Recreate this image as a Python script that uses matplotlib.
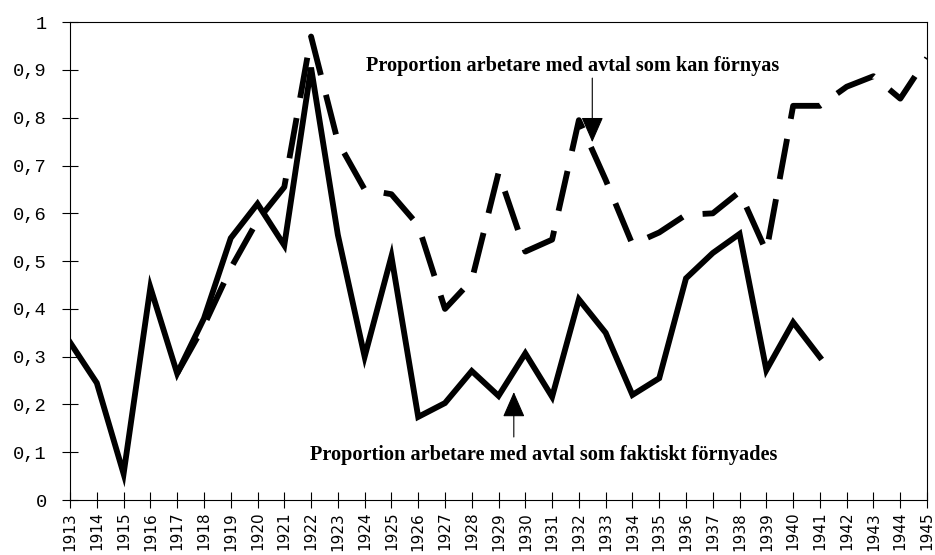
import matplotlib.pyplot as plt

# faktiskt förnyade avtal (heldragen linje)
years_renewed = list(range(1913, 1942))
renewed = [0.33, 0.245, 0.055, 0.445, 0.265, 0.38, 0.548, 0.62, 0.533, 0.905,
           0.555, 0.30, 0.51, 0.174, 0.203, 0.27, 0.218, 0.307, 0.216, 0.42,
           0.35, 0.22, 0.255, 0.464, 0.517, 0.557, 0.272, 0.372, 0.299]

# avtal som kan förnyas (streckad linje)
years_renewable = list(range(1917, 1946))
renewable = [0.265, 0.365, 0.485, 0.585, 0.655, 0.97, 0.75, 0.65, 0.64, 0.575,
             0.40, 0.46, 0.685, 0.52, 0.545, 0.795, 0.67, 0.535, 0.56, 0.597,
             0.60, 0.645, 0.52, 0.825, 0.825, 0.865, 0.887, 0.84, 0.925]

xticks = list(range(1913, 1946))
yticks = [i / 10 for i in range(11)]
ylabels = ['0'] + ['0,%d' % i for i in range(1, 10)] + ['1']

label_top = 'Proportion arbetare med avtal som kan förnyas'
label_bottom = 'Proportion arbetare med avtal som faktiskt förnyades'

fig = plt.figure(figsize=(9.35, 5.55), dpi=100)
ax = fig.add_axes([0.0749, 0.099, 0.9166, 0.861])

ax.plot(years_renewed, renewed, color='black', lw=4.2, solid_joinstyle='miter')
ax.plot(years_renewable, renewable, color='black', lw=4.2,
        linestyle=(0, (7, 3.5)), dash_capstyle='butt')

ax.set_xlim(1913, 1945)
ax.set_ylim(0, 1)

ax.set_xticks(xticks)
ax.set_xticklabels([str(y) for y in xticks], rotation=90,
                   fontfamily='DejaVu Sans', fontsize=11)
ax.set_yticks(yticks)
ax.set_yticklabels(ylabels, fontfamily='Liberation Mono', fontsize=13.5)

ax.tick_params(axis='both', direction='inout', length=11, width=0.8, color='black')
ax.tick_params(axis='y', pad=11)
ax.tick_params(axis='x', pad=3)

for side in ['left', 'bottom', 'top', 'right']:
    ax.spines[side].set_linewidth(0.8)
    ax.spines[side].set_color('black')

ax.text(1931.76, 0.908, label_top, ha='center', va='center',
        fontfamily='Liberation Serif', fontweight='bold', fontsize=14.6)
ax.annotate('', xy=(1932.5, 0.749), xytext=(1932.5, 0.883),
            arrowprops=dict(arrowstyle='-|>,head_length=1.6,head_width=0.7',
                            mutation_scale=10, color='black', lw=0.8,
                            shrinkA=0, shrinkB=0))

ax.text(1930.68, 0.095, label_bottom, ha='center', va='center',
        fontfamily='Liberation Serif', fontweight='bold', fontsize=14.6)
ax.annotate('', xy=(1929.57, 0.226), xytext=(1929.57, 0.132),
            arrowprops=dict(arrowstyle='-|>,head_length=1.6,head_width=0.7',
                            mutation_scale=10, color='black', lw=0.8,
                            shrinkA=0, shrinkB=0))

fig.savefig('out.png', dpi=100)
